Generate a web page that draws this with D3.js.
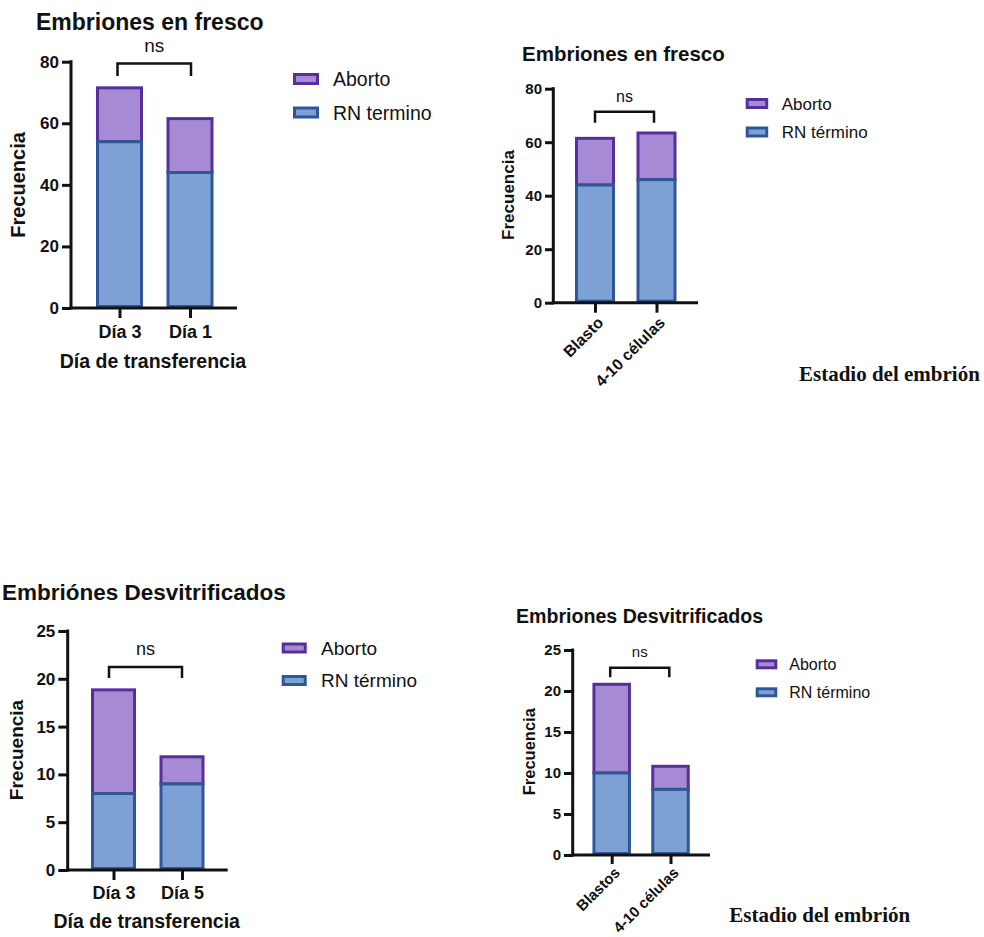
<!DOCTYPE html>
<html>
<head>
<meta charset="utf-8">
<script src="https://cdn.jsdelivr.net/npm/d3@7"></script>
<style>
  html, body { margin: 0; padding: 0; background: #ffffff; }
  svg { display: block; }
  text { font-family: "Liberation Sans", Arial, sans-serif; fill: #111; }
</style>
</head>
<body>
<svg id="chart" width="984" height="937"></svg>
<script>
// ---- Data ----
const seriesNames = ["Aborto", "RN término"];

// Embriones en fresco, por día de transferencia
const freshDayCategories = ["Día 3", "Día 1"];
const freshDayRN = [54, 44];
const freshDayAborto = [18, 18];

// Embriones en fresco, por estadio del embrión
const freshStageCategories = ["Blasto", "4-10 células"];
const freshStageRN = [44, 46];
const freshStageAborto = [18, 18];

// Embriones desvitrificados, por día de transferencia
const thawDayCategories = ["Día 3", "Día 5"];
const thawDayRN = [8, 9];
const thawDayAborto = [11, 3];

// Embriones desvitrificados, por estadio del embrión
const thawStageCategories = ["Blastos", "4-10 células"];
const thawStageRN = [10, 8];
const thawStageAborto = [11, 3];

const freshTicks = [0, 20, 40, 60, 80];
const thawTicks = [0, 5, 10, 15, 20, 25];

// ---- Styles ----
const colors = {
  abortoFill: "#a68bd4",
  abortoStroke: "#55309a",
  rnFill: "#7ea1d5",
  rnStroke: "#2f5798",
  ink: "#111111"
};

const svg = d3.select("#chart");

function drawPanel(p) {
  const g = svg.append("g");
  const y = d3.scaleLinear().domain([0, p.yMax]).range([p.y0, p.yTop]);
  const x = d3.scalePoint().domain(p.categories).range(p.centers);
  const sw = 3;
  const W = p.barW;

  const rows = p.categories.map((c, i) => ({
    cat: c, rn: p.rn[i], ab: p.ab[i], total: p.rn[i] + p.ab[i]
  }));

  // Aborto segment (upper)
  g.selectAll("rect.ab").data(rows).join("rect")
    .attr("x", d => x(d.cat) - W / 2 + sw / 2)
    .attr("width", W - sw)
    .attr("y", d => y(d.total) + sw / 2)
    .attr("height", d => y(d.rn) - y(d.total) - sw / 2)
    .attr("fill", colors.abortoFill)
    .attr("stroke", colors.abortoStroke)
    .attr("stroke-width", sw);

  // RN término segment (lower)
  g.selectAll("rect.rn").data(rows).join("rect")
    .attr("x", d => x(d.cat) - W / 2 + sw / 2)
    .attr("width", W - sw)
    .attr("y", d => y(d.rn))
    .attr("height", d => y(0) - y(d.rn) - sw / 2)
    .attr("fill", colors.rnFill)
    .attr("stroke", colors.rnStroke)
    .attr("stroke-width", sw);

  // Y axis
  const yAxis = d3.axisLeft(y).tickValues(p.ticks).tickSize(p.axisX - p.tickX0)
    .tickPadding(3).tickSizeOuter(0);
  const ya = g.append("g").attr("transform", `translate(${p.axisX},0)`).call(yAxis);
  ya.select(".domain").remove();
  ya.selectAll(".tick line").attr("stroke", colors.ink).attr("stroke-width", 3);
  ya.selectAll(".tick text")
    .attr("font-family", "Liberation Sans, Arial, sans-serif")
    .attr("font-weight", "bold").attr("font-size", p.tickFont).attr("fill", colors.ink);
  g.append("line")
    .attr("x1", p.axisX).attr("x2", p.axisX)
    .attr("y1", p.y0 + 1.5).attr("y2", p.yTop - 1.5)
    .attr("stroke", colors.ink).attr("stroke-width", 3);

  // X axis
  const xAxis = d3.axisBottom(x).tickSize(p.xTickLen).tickPadding(4).tickSizeOuter(0);
  const xa = g.append("g").attr("transform", `translate(0,${p.y0})`).call(xAxis);
  xa.select(".domain").remove();
  xa.selectAll(".tick line").attr("stroke", colors.ink).attr("stroke-width", 3);
  g.append("line")
    .attr("x1", p.axisX - 1.5).attr("x2", p.xEnd)
    .attr("y1", p.y0).attr("y2", p.y0)
    .attr("stroke", colors.ink).attr("stroke-width", 3);

  const xt = xa.selectAll(".tick text")
    .attr("font-family", "Liberation Sans, Arial, sans-serif")
    .attr("font-weight", "bold").attr("font-size", p.xLabelFont).attr("fill", colors.ink);
  if (p.rotate) {
    xt.attr("text-anchor", "end")
      .attr("dy", "0.35em")
      .attr("y", 0)
      .attr("transform", `translate(${p.rotDx},${p.rotDy}) rotate(-45)`);
  } else {
    xt.attr("dy", null).attr("y", p.xLabelBaseline - p.y0).attr("dominant-baseline", "auto");
  }

  // Titles
  g.append("text").attr("x", p.titleX).attr("y", p.titleY)
    .attr("font-weight", "bold").attr("font-size", p.titleFont).text(p.title);

  g.append("text")
    .attr("transform", `translate(${p.yTitleX},${p.yTitleY}) rotate(-90)`)
    .attr("text-anchor", "middle").attr("dy", "0.35em")
    .attr("font-weight", "bold").attr("font-size", p.yTitleFont).text("Frecuencia");

  if (p.xTitle) {
    g.append("text").attr("x", p.xTitleX).attr("y", p.xTitleY)
      .attr("text-anchor", p.xTitleAnchor || "middle")
      .attr("style", p.xTitleSerif ? "font-family:'Liberation Serif','Times New Roman',serif" : null)
      .attr("font-weight", "bold").attr("font-size", p.xTitleFont).text(p.xTitle);
  }

  // Significance bracket
  const [c1, c2] = p.categories.map(c => x(c));
  const bx1 = c1 + p.bracketInset[0], bx2 = c2 + p.bracketInset[1];
  g.append("path")
    .attr("d", `M${bx1},${p.bracketLow} V${p.bracketY} H${bx2} V${p.bracketLow}`)
    .attr("fill", "none").attr("stroke", colors.ink).attr("stroke-width", 2.5);
  g.append("text").attr("x", (bx1 + bx2) / 2).attr("y", p.nsY)
    .attr("text-anchor", "middle").attr("font-size", p.nsFont).text("ns");

  // Legend
  const legendItems = [
    { name: p.legendNames[0], fill: colors.abortoFill, stroke: colors.abortoStroke },
    { name: p.legendNames[1], fill: colors.rnFill, stroke: colors.rnStroke }
  ];
  const lg = g.append("g");
  legendItems.forEach((it, i) => {
    const cy = p.legendY[i];
    lg.append("rect")
      .attr("x", p.legendX + 1.5).attr("y", cy - p.swH / 2 + 1.5)
      .attr("width", p.swW - 3).attr("height", p.swH - 3)
      .attr("fill", it.fill).attr("stroke", it.stroke).attr("stroke-width", 3);
    lg.append("text")
      .attr("x", p.legendTextX).attr("y", cy).attr("dy", "0.36em")
      .attr("font-size", p.legendFont).text(it.name);
  });
}

// Top-left
drawPanel({
  title: "Embriones en fresco", titleX: 36, titleY: 30, titleFont: 23,
  categories: freshDayCategories, rn: freshDayRN, ab: freshDayAborto,
  yMax: 80, ticks: freshTicks, y0: 308, yTop: 61.7,
  axisX: 71, tickX0: 62, xEnd: 237, centers: [119.5, 190], barW: 47,
  xTickLen: 10, tickFont: 17, xLabelFont: 18, xLabelBaseline: 338,
  yTitleX: 18, yTitleY: 185, yTitleFont: 20,
  xTitle: "Día de transferencia", xTitleX: 153, xTitleY: 368, xTitleFont: 19.5,
  bracketY: 63.5, bracketLow: 76, bracketInset: [-2, 1], nsY: 52, nsFont: 19,
  legendNames: ["Aborto", "RN termino"], legendX: 293, swW: 26, swH: 12,
  legendY: [79, 112.5], legendTextX: 333, legendFont: 19.5
});

// Top-right
drawPanel({
  title: "Embriones en fresco", titleX: 522, titleY: 61, titleFont: 20.5,
  categories: freshStageCategories, rn: freshStageRN, ab: freshStageAborto,
  yMax: 80, ticks: freshTicks, y0: 302.7, yTop: 88.7,
  axisX: 553.3, tickX0: 545, xEnd: 698, centers: [595, 656.5], barW: 40,
  xTickLen: 10, tickFont: 15, xLabelFont: 16, rotate: true, rotDx: 5, rotDy: 17,
  yTitleX: 508, yTitleY: 195, yTitleFont: 17,
  xTitle: "Estadio del embrión", xTitleX: 799, xTitleY: 380.7, xTitleFont: 21,
  xTitleAnchor: "start", xTitleSerif: true,
  bracketY: 111.7, bracketLow: 122.7, bracketInset: [0, -2.5], nsY: 101.7, nsFont: 16,
  legendNames: ["Aborto", "RN término"], legendX: 745.7, swW: 22.5, swH: 11,
  legendY: [103.5, 132], legendTextX: 781.7, legendFont: 17
});

// Bottom-left
drawPanel({
  title: "Embriónes Desvitrificados", titleX: 2, titleY: 600, titleFont: 22.5,
  categories: thawDayCategories, rn: thawDayRN, ab: thawDayAborto,
  yMax: 25, ticks: thawTicks, y0: 870, yTop: 631,
  axisX: 67.7, tickX0: 58.3, xEnd: 227.7, centers: [113.5, 182], barW: 45,
  xTickLen: 10, tickFont: 17, xLabelFont: 18, xLabelBaseline: 899,
  yTitleX: 16.7, yTitleY: 750, yTitleFont: 19,
  xTitle: "Día de transferencia", xTitleX: 146.7, xTitleY: 928, xTitleFont: 19.5,
  bracketY: 667, bracketLow: 678, bracketInset: [-4.5, 0], nsY: 655, nsFont: 18,
  legendNames: ["Aborto", "RN término"], legendX: 281.7, swW: 25, swH: 11,
  legendY: [648, 680.5], legendTextX: 321, legendFont: 19
});

// Bottom-right
drawPanel({
  title: "Embriones Desvitrificados", titleX: 516, titleY: 623.3, titleFont: 19.6,
  categories: thawStageCategories, rn: thawStageRN, ab: thawStageAborto,
  yMax: 25, ticks: thawTicks, y0: 855, yTop: 650,
  axisX: 572.7, tickX0: 564, xEnd: 710, centers: [611.7, 670.5], barW: 38.5,
  xTickLen: 9, tickFont: 15, xLabelFont: 15, rotate: true, rotDx: 5, rotDy: 15,
  yTitleX: 529.3, yTitleY: 751.7, yTitleFont: 16.5,
  xTitle: "Estadio del embrión", xTitleX: 729.3, xTitleY: 921.7, xTitleFont: 21,
  xTitleAnchor: "start", xTitleSerif: true,
  bracketY: 667.7, bracketLow: 677.3, bracketInset: [-1.5, -1.2], nsY: 656.7, nsFont: 15,
  legendNames: ["Aborto", "RN término"], legendX: 755.7, swW: 21.6, swH: 10,
  legendY: [664.3, 692.3], legendTextX: 789.3, legendFont: 16
});
</script>
</body>
</html>
